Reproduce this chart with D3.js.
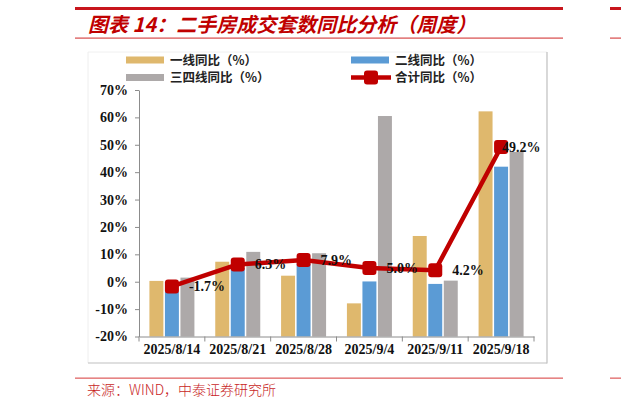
<!DOCTYPE html>
<html><head><meta charset="utf-8">
<script src="https://cdn.jsdelivr.net/npm/d3@7/dist/d3.min.js"></script>
<style>
html,body{margin:0;padding:0;background:#fff;}
svg{display:block;}
</style></head>
<body>
<svg id="chart" width="621" height="409"></svg>
<script>
const categories = ["2025/8/14","2025/8/21","2025/8/28","2025/9/4","2025/9/11","2025/9/18"];
const tier1 = [0.3, 7.3, 2.2, -7.9, 16.7, 62.2];
const tier2 = [-3.5, 5.0, 6.5, 0.1, -0.8, 42.0];
const tier34 = [1.5, 10.9, 10.4, 60.5, 0.4, 47.4];
const total = [-1.7, 6.3, 7.9, 5.0, 4.2, 49.2];
const yTicks = [-20, -10, 0, 10, 20, 30, 40, 50, 60, 70];
const seriesNames = ["一线同比（%）", "二线同比（%）", "三四线同比（%）", "合计同比（%）"];
const titleText = "图表 14：二手房成交套数同比分析（周度）";
const sourceText = "来源：WIND，中泰证券研究所";

const colors = {t1:"#DFB86D", t2:"#5B9BD5", t34:"#ADA9A9", total:"#C00000"};
const numFont = "'Liberation Serif','Times New Roman',serif";
const cjkFont = "'Noto Sans CJK SC','Noto Sans',sans-serif";

const svg = d3.select("#chart");

// header / footer decoration
const red = "#C8161D";
svg.append("rect").attr("x",75).attr("y",7).attr("width",488).attr("height",3).attr("fill",red);
svg.append("rect").attr("x",610).attr("y",7).attr("width",11).attr("height",3).attr("fill",red);
svg.append("rect").attr("x",75).attr("y",37.5).attr("width",488).attr("height",1.2).attr("fill","#D84A4A");
svg.append("rect").attr("x",610).attr("y",37.5).attr("width",11).attr("height",1.2).attr("fill","#D84A4A");
svg.append("rect").attr("x",75).attr("y",377.5).attr("width",488).attr("height",1.3).attr("fill","#E06666");
svg.append("rect").attr("x",610).attr("y",377.5).attr("width",11).attr("height",1.3).attr("fill","#E06666");

svg.append("text").attr("x",88).attr("y",32)
  .attr("font-family",cjkFont).attr("font-size",20).attr("font-weight","bold")
  .attr("font-style","italic").attr("fill","#C00000").text(titleText);

svg.append("text").attr("x",87).attr("y",395)
  .attr("font-family",cjkFont).attr("font-size",14).attr("font-weight",300)
  .attr("fill","#C81E1E").text(sourceText);

// chart frame
svg.append("line").attr("x1",88).attr("x2",547).attr("y1",52).attr("y2",52).attr("stroke","#f0f0f0");
svg.append("line").attr("x1",88).attr("x2",88).attr("y1",52).attr("y2",363).attr("stroke","#eeeeee");
svg.append("line").attr("x1",547).attr("x2",547).attr("y1",52).attr("y2",363.5).attr("stroke","#BFBFBF").attr("stroke-width",1.2);
svg.append("line").attr("x1",88).attr("x2",547).attr("y1",363).attr("y2",363).attr("stroke","#BFBFBF").attr("stroke-width",1.2);

// scales
const x = d3.scaleBand().domain(categories).range([139, 534]).padding(0);
const sub = d3.scaleBand().domain([0,1,2]).range([0,45]).paddingInner(0.1);
const y = d3.scaleLinear().domain([-20,70]).range([336.5, 90]);

// bars (drawn from axis minimum as in the source chart)
const barSeries = [tier1, tier2, tier34];
const barColors = [colors.t1, colors.t2, colors.t34];
barSeries.forEach((vals, si) => {
  svg.append("g").selectAll("rect").data(vals).join("rect")
    .attr("x", (d,i) => x(categories[i]) + x.bandwidth()/2 - 22.5 + sub(si))
    .attr("width", sub.bandwidth())
    .attr("y", d => y(d))
    .attr("height", d => y(-20) - y(d))
    .attr("fill", barColors[si]);
});

// y axis
const yAxis = d3.axisLeft(y).tickValues(yTicks).tickSize(4).tickSizeOuter(0).tickPadding(7)
  .tickFormat(d => d + "%");
const gy = svg.append("g").attr("transform","translate(139,0)").call(yAxis);
gy.select(".domain").attr("stroke","#8C8C8C");
gy.selectAll(".tick line").attr("stroke","#8C8C8C");
gy.selectAll(".tick text").attr("font-family",numFont).attr("font-size",14)
  .attr("font-weight","bold").attr("fill","#111");

// x axis
const xAxis = d3.axisBottom(x).tickSize(0).tickPadding(8);
const gx = svg.append("g").attr("transform",`translate(0,${y(-20)})`).call(xAxis);
gx.select(".domain").attr("stroke","#8C8C8C");
gx.selectAll(".tick text").attr("font-family",numFont).attr("font-size",14)
  .attr("font-weight","bold").attr("fill","#111");
const bounds = categories.map(c => x(c)).concat([x(categories[categories.length-1]) + x.bandwidth()]);
svg.append("g").selectAll("line").data(bounds).join("line")
  .attr("x1", d => d).attr("x2", d => d)
  .attr("y1", y(-20)).attr("y2", y(-20) + 5)
  .attr("stroke","#8C8C8C");

// line series
const cx = (d,i) => x(categories[i]) + x.bandwidth()/2;
const line = d3.line().x((d,i) => cx(d,i)).y(d => y(d));
svg.append("path").datum(total).attr("d", line)
  .attr("fill","none").attr("stroke",colors.total).attr("stroke-width",4.5)
  .attr("stroke-linejoin","round");
svg.append("g").selectAll("rect").data(total).join("rect")
  .attr("x",(d,i) => cx(d,i) - 7).attr("y", d => y(d) - 7)
  .attr("width",14).attr("height",14).attr("rx",3)
  .attr("fill",colors.total);

// data labels
svg.append("g").selectAll("text").data(total).join("text")
  .attr("x",(d,i) => cx(d,i) + (i === total.length-1 ? 1 : 17))
  .attr("y", d => y(d) + 5)
  .attr("font-family",numFont).attr("font-size",14).attr("font-weight","bold")
  .attr("fill","#111")
  .text(d => d.toFixed(1) + "%");

// legend
const legend = svg.append("g");
const legPos = [[126,60],[351,60],[126,77.5],[351,77.5]];
const legColors = [colors.t1, colors.t2, colors.t34, colors.total];
seriesNames.forEach((name, i) => {
  const [lx, ly] = legPos[i];
  if (i < 3) {
    legend.append("rect").attr("x",lx).attr("y",ly-3.5).attr("width",38).attr("height",7).attr("fill",legColors[i]);
  } else {
    legend.append("line").attr("x1",lx).attr("x2",lx+40).attr("y1",ly).attr("y2",ly)
      .attr("stroke",legColors[i]).attr("stroke-width",4.5);
    legend.append("rect").attr("x",lx+13).attr("y",ly-7).attr("width",14).attr("height",14).attr("rx",3).attr("fill",legColors[i]);
  }
  legend.append("text").attr("x",lx+44).attr("y",ly+4.5)
    .attr("font-family",cjkFont).attr("font-size",12.5).attr("font-weight",600)
    .attr("fill","#222").text(name);
});
</script>
</body></html>
